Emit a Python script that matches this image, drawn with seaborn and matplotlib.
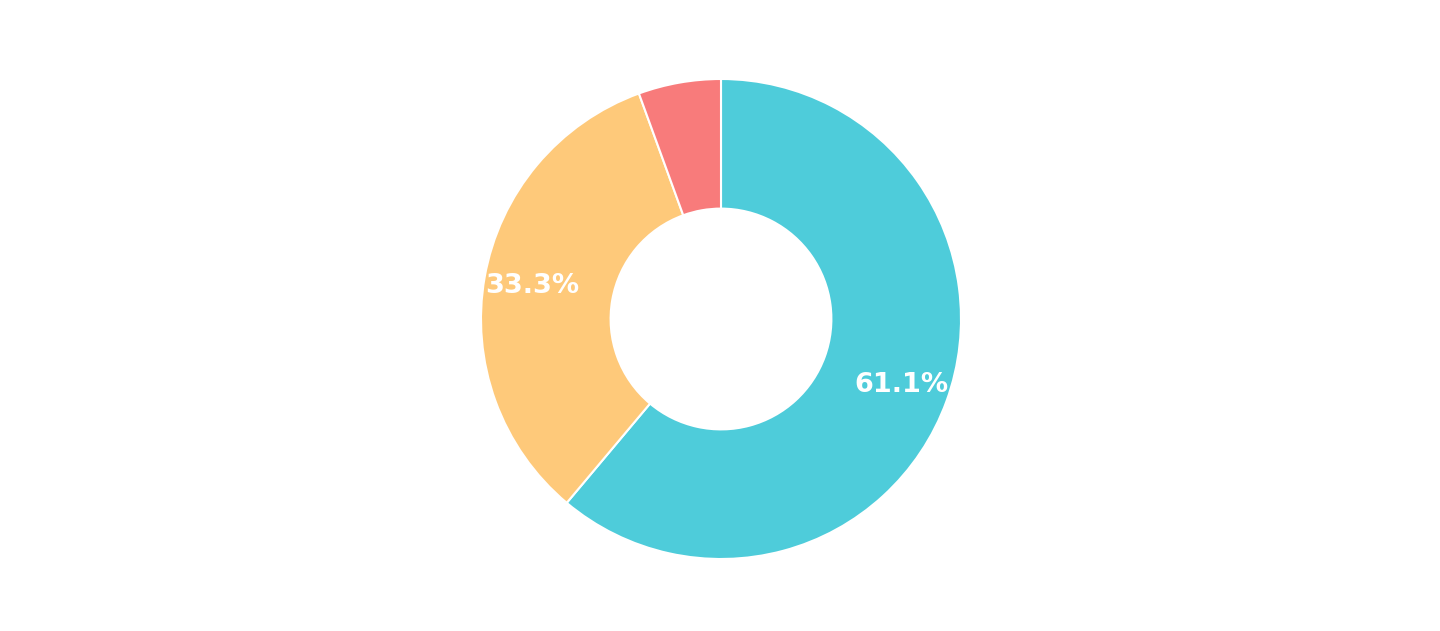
import matplotlib
matplotlib.use("Agg")
import matplotlib.pyplot as plt
import seaborn as sns

# data
labels = ["A", "B", "C"]
values = [11, 6, 1]
colors = ["#4ECCDA", "#FEC97A", "#F87B7B"]

sns.set_theme(style="white")
plt.rcParams['font.family'] = ['DejaVu Sans']

fig = plt.figure(figsize=(14.4, 6.31), dpi=100)
ax = fig.add_axes([481 / 1440, 72 / 631, 480 / 1440, 480 / 631])

def fmt(p):
    return f"{p:.1f}%" if p > 10 else ""

wedges, texts, autotexts = ax.pie(
    values, colors=sns.color_palette(colors), startangle=90, counterclock=False,
    radius=1, autopct=fmt, pctdistance=0.8,
    wedgeprops=dict(width=0.54, edgecolor="white", linewidth=1.5),
    textprops=dict(color="white", fontsize=19.5, fontweight="bold"),
)

ax.set_xlim(-1, 1)
ax.set_ylim(-1, 1)
ax.set_aspect("equal")
ax.axis("off")

fig.savefig("out.png", dpi=100, facecolor="white")
